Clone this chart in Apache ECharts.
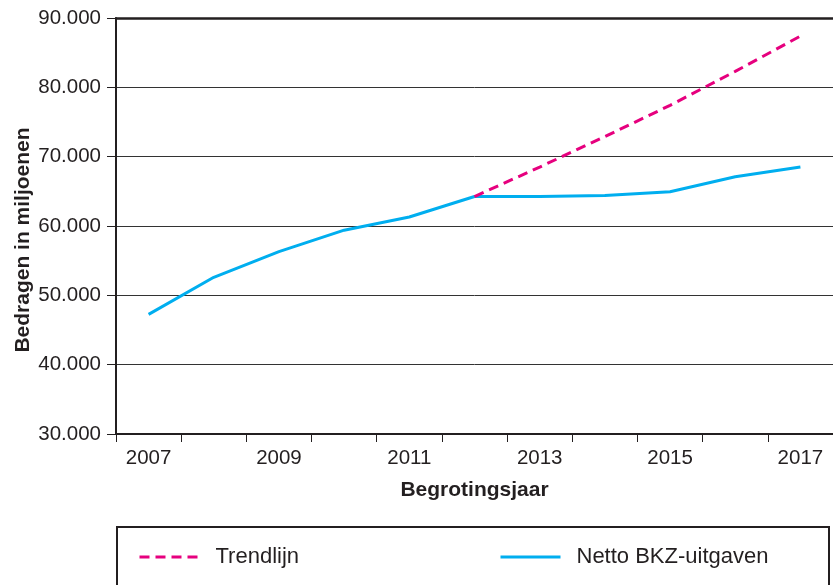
<!DOCTYPE html>
<html>
<head>
<meta charset="utf-8">
<script src="https://cdn.jsdelivr.net/npm/echarts@6/dist/echarts.min.js"></script>
<style>
  html, body { margin: 0; padding: 0; background: #fff; }
  #chart_container { width: 833px; height: 585px; }
</style>
</head>
<body>
<div id="chart_container"></div>
<script>
// jaren en bedragen (in miljoenen)
var years = ['2007', '2008', '2009', '2010', '2011', '2012', '2013', '2014', '2015', '2016', '2017'];
var netto_bkz = [47250, 52600, 56300, 59400, 61300, 64250, 64250, 64400, 64950, 67100, 68500];
var trendlijn = [null, null, null, null, null, 64250, 68500, 72900, 77400, 82300, 87400];
var y_ticks = [30000, 40000, 50000, 60000, 70000, 80000, 90000];

var TEXT = '#231f20';
var FONT = 'Liberation Sans';

var chart = echarts.init(document.getElementById('chart_container'), null, { renderer: 'canvas' });

var formatBedrag = function (v) {
  // 90000 -> "90.000"
  return Math.floor(v / 1000) + '.' + ('00' + (v % 1000)).slice(-3);
};

var option = {
  animation: false,
  backgroundColor: '#fff',
  textStyle: { fontFamily: FONT, color: TEXT },
  grid: { left: 116, right: 0, top: 18, height: 416 },
  legend: [
    {
      data: ['Trendlijn'],
      left: 138, top: 546, padding: 0,
      itemWidth: 59, itemHeight: 14,
      itemStyle: { opacity: 0 },
      lineStyle: { width: 3 },
      textStyle: { fontSize: 22, color: TEXT, fontFamily: FONT, padding: [0, 0, 0, 12] }
    },
    {
      data: ['Netto BKZ-uitgaven'],
      left: 499, top: 546, padding: 0,
      itemWidth: 60, itemHeight: 14,
      itemStyle: { opacity: 0 },
      lineStyle: { width: 3 },
      textStyle: { fontSize: 22, color: TEXT, fontFamily: FONT, padding: [0, 0, 0, 11] }
    }
  ],
  graphic: [
    {
      type: 'rect',
      shape: { x: 117, y: 527, width: 712, height: 80 },
      style: { fill: null, stroke: TEXT, lineWidth: 2 },
      silent: true
    }
  ],
  xAxis: [
    {
      type: 'category',
      data: years,
      boundaryGap: true,
      name: 'Begrotingsjaar',
      nameLocation: 'middle',
      nameGap: 46,
      nameMoveOverlap: false,
      nameTextStyle: { fontSize: 21, fontWeight: 'bold', color: TEXT, fontFamily: FONT },
      axisLine: { lineStyle: { color: TEXT, width: 2 } },
      axisTick: { show: true, interval: 0, length: 8, lineStyle: { color: TEXT, width: 1 } },
      axisLabel: { interval: 1, margin: 14, fontSize: 20.5, color: TEXT, fontFamily: FONT },
      splitLine: { show: false }
    },
    {
      type: 'category',
      data: years,
      position: 'top',
      axisLine: { lineStyle: { color: TEXT, width: 2.5 } },
      axisTick: { show: false },
      axisLabel: { show: false }
    }
  ],
  yAxis: {
    type: 'value',
    min: y_ticks[0],
    max: y_ticks[y_ticks.length - 1],
    interval: 10000,
    name: 'Bedragen in miljoenen',
    nameLocation: 'middle',
    nameRotate: 90,
    nameGap: 82,
    nameMoveOverlap: false,
    nameTextStyle: { fontSize: 21, fontWeight: 'bold', color: TEXT, fontFamily: FONT, padding: [0, 28, 0, 0] },
    axisLine: { show: true, lineStyle: { color: TEXT, width: 2 } },
    axisTick: { show: true, length: 9, lineStyle: { color: TEXT, width: 1 } },
    axisLabel: { margin: 15, fontSize: 20.5, color: TEXT, fontFamily: FONT, formatter: formatBedrag },
    splitLine: { show: true, lineStyle: { color: '#333', width: 1 } }
  },
  series: [
    {
      name: 'Netto BKZ-uitgaven',
      type: 'line',
      data: netto_bkz,
      symbol: 'none',
      lineStyle: { color: '#00aeef', width: 3 },
      itemStyle: { color: '#00aeef' },
      z: 2
    },
    {
      name: 'Trendlijn',
      type: 'line',
      data: trendlijn,
      symbol: 'none',
      lineStyle: { color: '#e6007e', width: 3, type: [10, 6] },
      itemStyle: { color: '#e6007e' },
      z: 3
    }
  ]
};

chart.setOption(option);
</script>
</body>
</html>
